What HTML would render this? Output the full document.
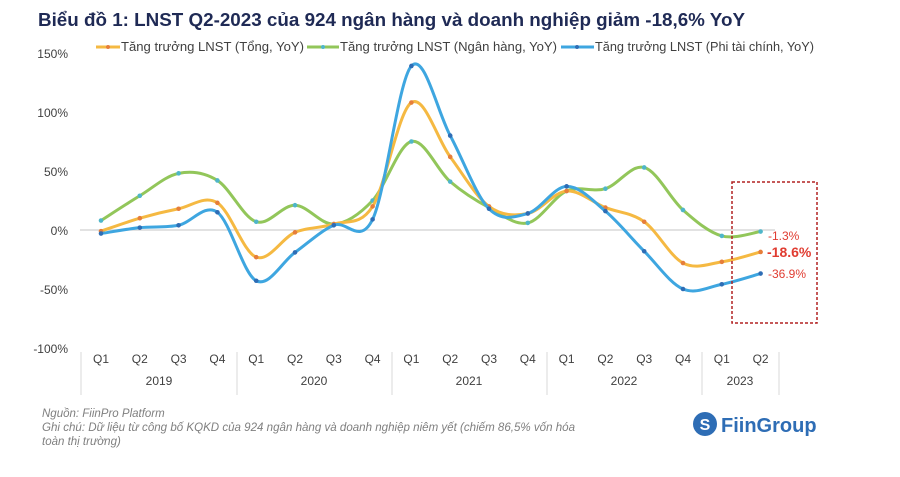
<!DOCTYPE html>
<html><head><meta charset="utf-8"><style>
body{margin:0;background:#fff;width:900px;height:472px;overflow:hidden;font-family:"Liberation Sans","Noto Sans CJK SC",sans-serif}
</style></head><body>
<svg id="s" width="900" height="472" xmlns="http://www.w3.org/2000/svg" font-family="Liberation Sans, Noto Sans CJK SC, sans-serif">
<text x="38" y="26" font-size="18.5" font-weight="bold" fill="#1f2a55" textLength="707" lengthAdjust="spacingAndGlyphs">Biểu đồ 1: LNST Q2-2023 của 924 ngân hàng và doanh nghiệp giảm -18,6% YoY</text>
<g font-size="12" fill="#404040" text-anchor="end">
<text x="68" y="58">150%</text><text x="68" y="117">100%</text><text x="68" y="176">50%</text>
<text x="68" y="235">0%</text><text x="68" y="294">-50%</text><text x="68" y="353">-100%</text>
</g>
<line x1="80" y1="230" x2="775" y2="230" stroke="#d9d9d9" stroke-width="1.5"/>
<g font-size="13" fill="#404040">
<line x1="96" y1="47" x2="120" y2="47" stroke="#f5b942" stroke-width="3"/><circle cx="108" cy="47" r="2" fill="#e67e3a"/>
<text x="121" y="51" textLength="183" lengthAdjust="spacingAndGlyphs">Tăng trưởng LNST (Tổng, YoY)</text>
<line x1="307" y1="47" x2="339" y2="47" stroke="#92c65a" stroke-width="3"/><circle cx="323" cy="47" r="2" fill="#4fb6c9"/>
<text x="340" y="51" textLength="217" lengthAdjust="spacingAndGlyphs">Tăng trưởng LNST (Ngân hàng, YoY)</text>
<line x1="561" y1="47" x2="594" y2="47" stroke="#3ea6e0" stroke-width="3"/><circle cx="577" cy="47" r="2" fill="#2e6db5"/>
<text x="595" y="51" textLength="219" lengthAdjust="spacingAndGlyphs">Tăng trưởng LNST (Phi tài chính, YoY)</text>
</g>
<g stroke="#d9d9d9" stroke-width="1">
<line x1="81" y1="352" x2="81" y2="395"/><line x1="237" y1="352" x2="237" y2="395"/><line x1="392" y1="352" x2="392" y2="395"/>
<line x1="547" y1="352" x2="547" y2="395"/><line x1="702" y1="352" x2="702" y2="395"/><line x1="779" y1="352" x2="779" y2="395"/>
</g>
<g id="xl" font-size="12" fill="#404040" text-anchor="middle"></g>
<g font-size="12" fill="#404040" text-anchor="middle">
<text x="159" y="385">2019</text><text x="314" y="385">2020</text><text x="469" y="385">2021</text><text x="624" y="385">2022</text><text x="740" y="385">2023</text>
</g>
<g id="lines"></g>
<rect x="732" y="182" width="85" height="141" fill="none" stroke="#b22222" stroke-width="1.5" stroke-dasharray="3,2"/>
<text x="768" y="240" font-size="12" fill="#e03c31">-1.3%</text>
<text x="767" y="257" font-size="14" font-weight="bold" fill="#e03c31">-18.6%</text>
<text x="768" y="278" font-size="12" fill="#e03c31">-36.9%</text>
<g font-size="11.5" fill="#7f7f7f" font-style="italic">
<text x="42" y="417">Nguồn: FiinPro Platform</text>
<text x="42" y="431" textLength="533" lengthAdjust="spacingAndGlyphs">Ghi chú: Dữ liệu từ công bố KQKD của 924 ngân hàng và doanh nghiệp niêm yết (chiếm 86,5% vốn hóa</text>
<text x="42" y="445">toàn thị trường)</text>
</g>
<circle cx="705" cy="424" r="12" fill="#2e6db5"/><text x="705" y="430" font-size="16" font-weight="bold" fill="#fff" text-anchor="middle">S</text>
<text x="721" y="432" font-size="20" font-weight="bold" fill="#2e6db5">FiinGroup</text>
</svg>
<script>
var X=function(i){return 101+i*38.8},Y=function(v){return 230-v*1.18};
var q=['Q1','Q2','Q3','Q4'],xl=document.getElementById('xl'),h='';
for(var i=0;i<18;i++)h+='<text x="'+X(i)+'" y="363">'+q[i%4]+'</text>';
xl.innerHTML=h;
var S=[
['#92c65a','#4fb6c9',[8,29,48,42,7,21,5,25,75,41,19,6,33,35,53,17,-5,-1.3]],
['#f5b942','#e67e3a',[-1,10,18,23,-23,-2,5,20,108,62,20,14,33,19,7,-28,-27,-18.6]],
['#3ea6e0','#2e6db5',[-3,2,4,15,-43,-19,4,9,139,80,18,14,37,16,-18,-50,-46,-36.9]]];
var g='';
S.forEach(function(s){var p=s[2].map(function(v,i){return[X(i),Y(v)]});
var d='M'+p[0][0]+','+p[0][1];
for(var i=0;i<p.length-1;i++){var a=p[Math.max(i-1,0)],b=p[i],c=p[i+1],e=p[Math.min(i+2,p.length-1)];
d+=' C'+(b[0]+(c[0]-a[0])/6)+','+(b[1]+(c[1]-a[1])/6)+' '+(c[0]-(e[0]-b[0])/6)+','+(c[1]-(e[1]-b[1])/6)+' '+c[0]+','+c[1];}
g+='<path d="'+d+'" fill="none" stroke="'+s[0]+'" stroke-width="3"/>';
p.forEach(function(t){g+='<circle cx="'+t[0]+'" cy="'+t[1]+'" r="2.3" fill="'+s[1]+'"/>'});});
document.getElementById('lines').innerHTML=g;
</script>
</body></html>
